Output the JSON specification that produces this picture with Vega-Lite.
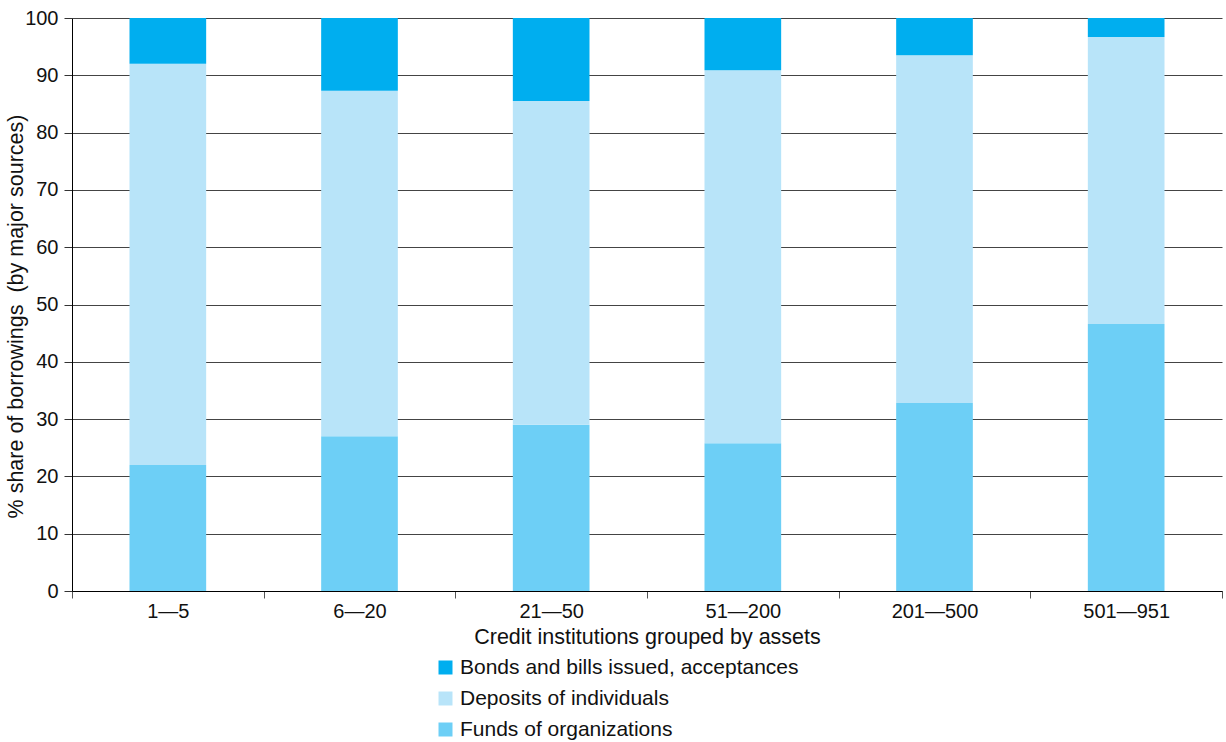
{
  "$schema": "https://vega.github.io/schema/vega-lite/v6.json",
  "autosize": {"type": "none"},
  "padding": {"left": 72, "top": 18, "right": 4, "bottom": 151},
  "width": 1150,
  "height": 573,
  "background": "white",
  "config": {
    "view": {"stroke": null},
    "font": "Liberation Sans"
  },
  "data": {
    "values": [
      {"group": "1—5", "source": "Funds of organizations", "share": 22.0, "ord": 1},
      {"group": "1—5", "source": "Deposits of individuals", "share": 70.0, "ord": 2},
      {"group": "1—5", "source": "Bonds and bills issued, acceptances", "share": 8.0, "ord": 3},
      {"group": "6—20", "source": "Funds of organizations", "share": 27.0, "ord": 1},
      {"group": "6—20", "source": "Deposits of individuals", "share": 60.3, "ord": 2},
      {"group": "6—20", "source": "Bonds and bills issued, acceptances", "share": 12.7, "ord": 3},
      {"group": "21—50", "source": "Funds of organizations", "share": 29.0, "ord": 1},
      {"group": "21—50", "source": "Deposits of individuals", "share": 56.5, "ord": 2},
      {"group": "21—50", "source": "Bonds and bills issued, acceptances", "share": 14.5, "ord": 3},
      {"group": "51—200", "source": "Funds of organizations", "share": 25.8, "ord": 1},
      {"group": "51—200", "source": "Deposits of individuals", "share": 65.1, "ord": 2},
      {"group": "51—200", "source": "Bonds and bills issued, acceptances", "share": 9.1, "ord": 3},
      {"group": "201—500", "source": "Funds of organizations", "share": 32.8, "ord": 1},
      {"group": "201—500", "source": "Deposits of individuals", "share": 60.7, "ord": 2},
      {"group": "201—500", "source": "Bonds and bills issued, acceptances", "share": 6.5, "ord": 3},
      {"group": "501—951", "source": "Funds of organizations", "share": 46.6, "ord": 1},
      {"group": "501—951", "source": "Deposits of individuals", "share": 50.1, "ord": 2},
      {"group": "501—951", "source": "Bonds and bills issued, acceptances", "share": 3.3, "ord": 3}
    ]
  },
  "mark": {"type": "bar", "width": {"band": 0.4}},
  "encoding": {
    "x": {
      "field": "group",
      "type": "nominal",
      "sort": null,
      "scale": {"paddingInner": 0, "paddingOuter": 0},
      "axis": {
        "title": "Credit institutions grouped by assets",
        "titleFontSize": 21.5,
        "titleFontWeight": "normal",
        "titleColor": "#111",
        "titlePadding": 5,
        "labelFontSize": 20,
        "labelColor": "#111",
        "labelAngle": 0,
        "labelPadding": 3,
        "tickBand": "extent",
        "tickSize": 7,
        "tickColor": "#555",
        "domainColor": "#000",
        "grid": false
      }
    },
    "y": {
      "field": "share",
      "type": "quantitative",
      "stack": "zero",
      "scale": {"domain": [0, 100], "nice": false},
      "axis": {
        "title": "% share of borrowings\u00a0\u00a0(by major sources)",
        "titleFontSize": 21.5,
        "titleFontWeight": "normal",
        "titleColor": "#111",
        "titleX": -45,
        "titleY": 298,
        "values": [0, 10, 20, 30, 40, 50, 60, 70, 80, 90, 100],
        "labelFontSize": 20,
        "labelColor": "#111",
        "labelPadding": 6,
        "tickSize": 8,
        "tickColor": "#333",
        "domainColor": "#000",
        "grid": true,
        "gridColor": "#444",
        "gridWidth": 1
      }
    },
    "color": {
      "field": "source",
      "type": "nominal",
      "scale": {
        "domain": ["Bonds and bills issued, acceptances", "Deposits of individuals", "Funds of organizations"],
        "range": ["#00AEEF", "#B8E4F9", "#6DCFF6"]
      },
      "legend": {
        "title": null,
        "orient": "none",
        "legendX": 363,
        "legendY": 639,
        "direction": "vertical",
        "symbolType": "square",
        "symbolSize": 196,
        "symbolStrokeWidth": 0,
        "labelFontSize": 21,
        "labelColor": "#111",
        "labelOffset": 4,
        "rowPadding": 9,
        "labelLimit": 500
      }
    },
    "order": {"field": "ord", "type": "quantitative"}
  }
}
